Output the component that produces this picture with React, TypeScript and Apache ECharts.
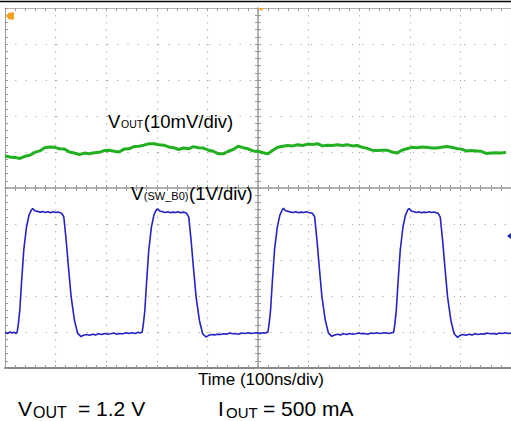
import React, { useEffect, useRef } from "react";
import * as echarts from "echarts";

// Screen: 10 horizontal divisions of 100 ns, 10 vertical divisions
const TIME_MIN_NS = -500;
const TIME_MAX_NS = 500;
const TIME_DIV_NS = 100;
const DIV_MIN = -5;
const DIV_MAX = 5;

// VOUT trace (10 mV/div), position in mV relative to screen centre, sampled every ~9.8 ns from -500 ns
const voutStartNs = -500;
const voutStepNs = 9.804;
const voutMvPerDiv = 10;
const voutTraceMv = [
  8.9, 8.6, 8.5, 8.2, 8.8, 9.1, 9.9, 10.3, 11.2, 11.4,
  11.3, 10.9, 10.8, 10.0, 9.7, 9.3, 9.7, 9.5, 9.8, 9.9,
  10.4, 10.5, 10.2, 10.0, 10.8, 10.9, 11.5, 11.6, 11.9, 12.3,
  12.3, 12.0, 11.9, 11.4, 11.2, 10.7, 11.1, 10.9, 11.5, 11.2,
  11.1, 10.5, 10.2, 9.5, 9.5, 10.2, 10.7, 11.6, 11.2, 10.9,
  10.3, 10.2, 9.8, 9.5, 10.5, 11.3, 11.6, 11.8, 11.7, 12.0,
  11.8, 12.2, 12.1, 12.3, 11.7, 11.9, 11.8, 12.0, 11.8, 12.0,
  11.7, 11.8, 11.3, 11.0, 10.5, 10.4, 10.5, 10.5, 10.0, 9.7,
  10.5, 10.9, 11.3, 11.2, 11.4, 11.3, 11.1, 11.1, 11.3, 11.5,
  11.3, 11.0, 10.8, 10.3, 10.4, 10.3, 10.2, 9.6, 9.7, 9.8,
  9.7, 9.9,
];

// V(SW_B0) trace (1 V/div): [time ns, volts]
const swVoltsPerDiv = 1;
const swOffsetDiv = -4.03;
const swTrace: [number, number][] = [
  [-500, 0.02], [-495, -0.01], [-490, 0.03], [-486, 0.0], [-482, 0.02], [-478, -0.01],
  [-476, 0.03], [-473.6, 0.25], [-470.7, 0.64], [-467.4, 1.39], [-462.9, 2.31], [-457.6, 2.94], [-452.5, 3.28], [-447.8, 3.42], [-445.2, 3.46], [-441.3, 3.4], [-435.4, 3.38],
  [-430, 3.36], [-425, 3.38], [-420, 3.35], [-415, 3.37], [-410, 3.34], [-405, 3.37], [-400, 3.35], [-395, 3.36], [-391, 3.34],
  [-388.3, 3.33], [-383.8, 3.23], [-379.1, 2.58], [-374.6, 1.84], [-369.3, 1.01], [-362.8, 0.36], [-356.4, -0.01], [-349.7, -0.1], [-345.2, -0.06], [-338.7, -0.04],
  [-333, -0.06], [-327, -0.03], [-321, -0.05], [-315, -0.02], [-309, -0.04], [-303, -0.01], [-297, -0.03], [-291, -0.02], [-285, 0.0], [-279, -0.03], [-273, -0.01], [-267, -0.02], [-261, 0.01], [-255, -0.01], [-249, 0.01], [-243, -0.01], [-237, 0.02], [-233, 0.0],
  [-229, 0.02], [-226.6, 0.25], [-223.7, 0.62], [-220.4, 1.37], [-215.9, 2.3], [-210.6, 2.95], [-205.5, 3.29], [-200.8, 3.43], [-198.2, 3.45], [-194.3, 3.39], [-188.4, 3.37],
  [-183, 3.35], [-178, 3.37], [-173, 3.34], [-168, 3.36], [-163, 3.35], [-158, 3.37], [-153, 3.34], [-148, 3.36], [-144, 3.35],
  [-141.3, 3.33], [-136.8, 3.22], [-132.1, 2.56], [-127.6, 1.82], [-122.3, 1.0], [-115.8, 0.35], [-109.4, -0.02], [-102.7, -0.11], [-98.2, -0.07], [-91.7, -0.04],
  [-86, -0.05], [-80, -0.03], [-74, -0.04], [-68, -0.02], [-62, -0.03], [-56, 0.0], [-50, -0.02], [-44, -0.01], [-38, -0.03], [-32, 0.0], [-26, -0.01], [-20, 0.01], [-14, -0.01], [-8, 0.0], [-2, 0.01], [4, -0.01], [10, 0.01], [15, 0.0],
  [19.6, 0.03], [22.0, 0.26], [24.9, 0.65], [28.2, 1.4], [32.7, 2.32], [38.0, 2.93], [43.1, 3.27], [47.8, 3.42], [50.4, 3.47], [54.3, 3.4], [60.2, 3.38],
  [65, 3.36], [70, 3.35], [75, 3.37], [80, 3.34], [85, 3.36], [90, 3.35], [95, 3.37], [100, 3.35], [104, 3.34],
  [107.3, 3.33], [111.8, 3.24], [116.5, 2.59], [121.0, 1.85], [126.3, 1.02], [132.8, 0.37], [139.2, 0.0], [145.9, -0.09], [150.4, -0.06], [156.9, -0.03],
  [163, -0.05], [169, -0.02], [175, -0.04], [181, -0.01], [187, -0.03], [193, -0.02], [199, 0.0], [205, -0.02], [211, -0.01], [217, -0.03], [223, 0.0], [229, -0.01], [235, 0.01], [241, -0.01], [247, 0.0], [253, 0.01], [259, -0.01], [264, 0.01],
  [268, 0.02], [270.4, 0.25], [273.3, 0.63], [276.6, 1.38], [281.1, 2.3], [286.4, 2.94], [291.5, 3.28], [296.2, 3.43], [298.8, 3.46], [302.7, 3.39], [308.6, 3.37],
  [313, 3.35], [318, 3.37], [323, 3.34], [328, 3.36], [333, 3.35], [338, 3.37], [343, 3.35], [348, 3.36], [352, 3.34],
  [355.7, 3.33], [360.2, 3.22], [364.9, 2.57], [369.4, 1.83], [374.7, 1.0], [381.2, 0.35], [387.6, -0.02], [394.3, -0.12], [398.8, -0.07], [405.3, -0.04],
  [411, -0.06], [417, -0.03], [423, -0.05], [429, -0.02], [435, -0.04], [441, -0.02], [447, -0.03], [453, 0.0], [459, -0.02], [465, -0.01], [471, -0.03], [477, 0.0], [483, -0.01], [489, 0.01], [495, -0.01], [500, 0.0],
];

const FONT = "'Liberation Sans', Arial, Helvetica, sans-serif";
const GRID_GRAY = "#a9a9a9";
const FRAME_GRAY = "#9a9a9a";

function txt(text: string, x: number, y: number, size: number, align = "left") {
  return {
    type: "text",
    z: 100,
    x,
    y,
    style: {
      text,
      fontSize: size,
      fontFamily: FONT,
      fill: "#000",
      align,
      textAlign: align,
      verticalAlign: "middle",
      textVerticalAlign: "middle",
    },
  };
}

function xAxisDef(opts: any) {
  return {
    type: "value",
    min: TIME_MIN_NS,
    max: TIME_MAX_NS,
    interval: TIME_DIV_NS,
    axisLabel: { show: false },
    splitLine: { show: false },
    ...opts,
  };
}
function yAxisDef(opts: any) {
  return {
    type: "value",
    min: DIV_MIN,
    max: DIV_MAX,
    interval: 1,
    axisLabel: { show: false },
    splitLine: { show: false },
    ...opts,
  };
}

export default function App() {
  const ref = useRef<HTMLDivElement>(null);
  useEffect(() => {
    if (!ref.current) return;
    const chart = echarts.init(ref.current, undefined, { renderer: "svg" });

    const voutData = voutTraceMv.map((mv, i) => [voutStartNs + i * voutStepNs, mv / voutMvPerDiv]);
    const swData = swTrace.map(([t, v]) => [t, v / swVoltsPerDiv + swOffsetDiv]);

    const tick = (inside: boolean, color = FRAME_GRAY) => ({
      axisTick: { show: true, inside, length: 3, lineStyle: { color, width: 1 } },
      minorTick: { show: true, splitNumber: 5, length: 3, lineStyle: { color, width: 1 } },
    });

    chart.setOption({
      animation: false,
      backgroundColor: "#ffffff",
      grid: { left: 5, top: 8, width: 510, height: 360, containLabel: false },
      xAxis: [
        xAxisDef({
          position: "bottom",
          axisLine: { show: true, onZero: false, lineStyle: { color: "#888888", width: 2 } },
          ...tick(true),
          splitLine: { show: true, lineStyle: { color: GRID_GRAY, width: 1.2, type: [1.2, 6.0] } },
        }),
        xAxisDef({
          position: "top",
          axisLine: { show: true, onZero: false, lineStyle: { color: "#b0b0b0", width: 1 } },
          ...tick(true),
        }),
        xAxisDef({
          position: "bottom",
          axisLine: { show: true, onZero: true, onZeroAxisIndex: 0, lineStyle: { color: FRAME_GRAY, width: 1.5 } },
          ...tick(true),
        }),
        xAxisDef({
          position: "bottom",
          axisLine: { show: false, onZero: true, onZeroAxisIndex: 0 },
          ...tick(false),
        }),
      ],
      yAxis: [
        yAxisDef({
          position: "left",
          axisLine: { show: true, onZero: false, lineStyle: { color: FRAME_GRAY, width: 1 } },
          ...tick(true),
          splitLine: { show: true, lineStyle: { color: GRID_GRAY, width: 1.2, type: [1.2, 9.0] } },
        }),
        yAxisDef({
          position: "left",
          axisLine: { show: true, onZero: true, onZeroAxisIndex: 0, lineStyle: { color: FRAME_GRAY, width: 1.5 } },
          ...tick(true),
        }),
        yAxisDef({
          position: "left",
          axisLine: { show: false, onZero: true, onZeroAxisIndex: 0 },
          ...tick(false),
        }),
      ],
      series: [
        {
          name: "VOUT",
          type: "line",
          data: voutData,
          showSymbol: false,
          smooth: false,
          lineStyle: { color: "#22b022", width: 3 },
          z: 3,
        },
        {
          name: "V(SW_B0)",
          type: "line",
          data: swData,
          showSymbol: false,
          smooth: false,
          lineStyle: { color: "#2424c4", width: 1.6 },
          z: 4,
        },
      ],
      graphic: [
        { type: "line", z: 100, shape: { x1: 0, y1: 1.5, x2: 511, y2: 1.5 }, style: { stroke: "#000", lineWidth: 1.6 } },
        { type: "polygon", z: 100, shape: { points: [[6, 16], [9, 12.5], [14, 12.5], [14, 19.5], [9, 19.5]] }, style: { fill: "#f3a21f" } },
        { type: "polygon", z: 100, shape: { points: [[258, 8], [264, 8], [261, 11]] }, style: { fill: "#f3a21f" } },
        { type: "polygon", z: 100, shape: { points: [[507, 236], [511, 233], [511, 239]] }, style: { fill: "#2424c4" } },
        txt("V", 108, 121.3, 18.5),
        txt("OUT", 121, 124.4, 10.5),
        txt("(10mV/div)", 143.8, 121.3, 18.5),
        txt("V", 131, 193.6, 18.5),
        txt("(SW_B0)", 143.8, 196.2, 11),
        txt("(1V/div)", 189, 193.6, 18.5),
        txt("Time (100ns/div)", 261, 379.1, 17, "center"),
        txt("V", 18, 408.7, 21),
        txt("OUT", 33, 412.8, 16),
        txt("= 1.2 V", 78, 408.7, 21),
        txt("I", 218, 408.7, 21),
        txt("OUT", 226, 412.8, 15),
        txt("= 500 mA", 263, 408.7, 21),
      ],
    });
    return () => chart.dispose();
  }, []);

  return (
    <div
      ref={ref}
      style={{ position: "absolute", left: 0, top: 0, width: 511, height: 421, background: "#fff" }}
    />
  );
}
